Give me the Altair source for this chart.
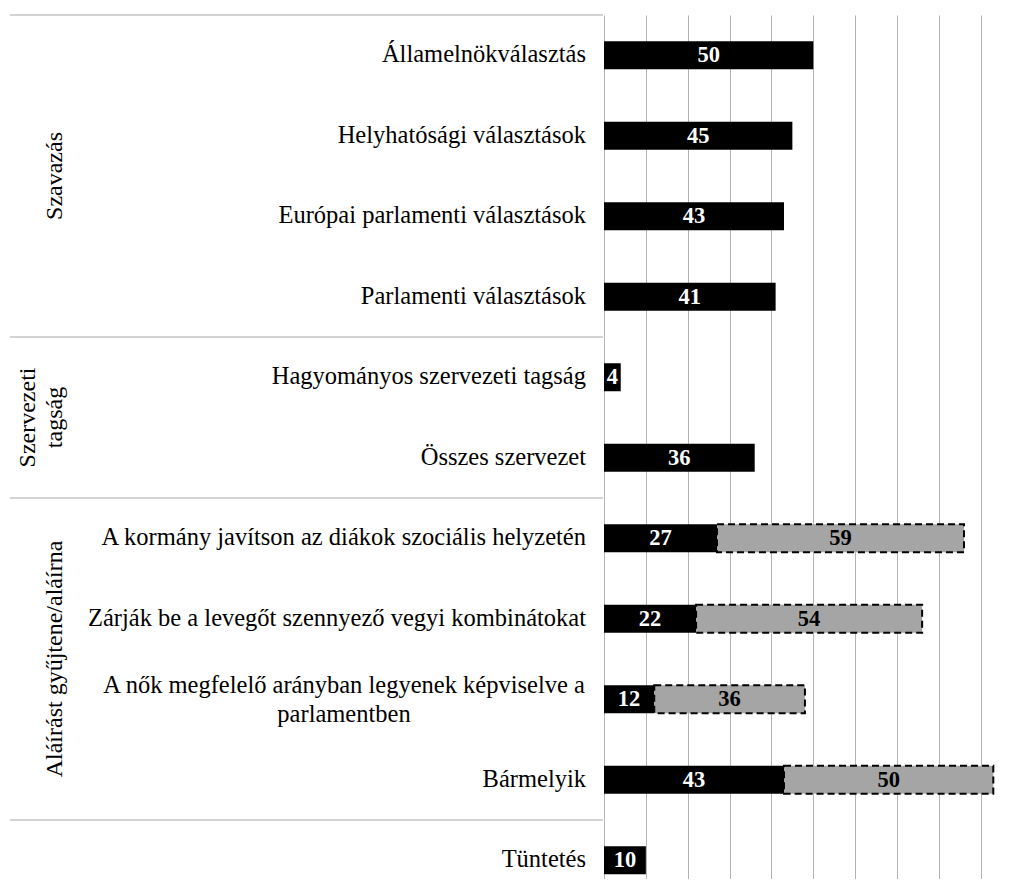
import altair as alt
import pandas as pd

# ---------------- data ----------------
categories = [
    "Államelnökválasztás",
    "Helyhatósági választások",
    "Európai parlamenti választások",
    "Parlamenti választások",
    "Hagyományos szervezeti tagság",
    "Összes szervezet",
    "A kormány javítson az diákok szociális helyzetén",
    "Zárják be a levegőt szennyező vegyi kombinátokat",
    "A nők megfelelő arányban legyenek képviselve a|parlamentben",
    "Bármelyik",
    "Tüntetés",
]
black_values = [50, 45, 43, 41, 4, 36, 27, 22, 12, 43, 10]
grey_values = [None, None, None, None, None, None, 59, 54, 36, 50, None]

group_names = ["Szavazás", "Szervezeti|tagság", "Aláírást gyűjtene/aláírna", ""]
group_first = [0, 4, 6, 10]
group_last = [3, 5, 9, 10]

grid_values = [0, 10, 20, 30, 40, 50, 60, 70, 80, 90]

# ---------------- tables ----------------
rows = pd.DataFrame({
    "idx": list(range(len(categories))),
    "label": categories,
    "black": black_values,
    "grey": grey_values,
})
black_df = pd.DataFrame({
    "idx": rows["idx"],
    "start": 0,
    "end": rows["black"],
    "value": rows["black"],
})
g = rows.dropna(subset=["grey"])
grey_df = pd.DataFrame({
    "idx": g["idx"],
    "start": g["black"],
    "end": g["black"] + g["grey"],
    "value": g["grey"].astype(int),
})
groups = pd.DataFrame({"name": group_names, "first": group_first, "last": group_last})

FONT = "'Times New Roman', 'Liberation Serif', 'DejaVu Serif', serif"
LABEL_SIZE = 24.5
GROUP_SIZE = 24
STEP = 80.5
H = 864
W_LEFT = 595
W_RIGHT = 400
PX_PER_UNIT = 4.186
HALF = 14 / STEP  # half bar thickness in row units

yscale = alt.Scale(domain=[-0.5, -0.5 + H / STEP], reverse=True, nice=False, zero=False)
xscale = alt.Scale(domain=[0, W_RIGHT / PX_PER_UNIT], nice=False, zero=False)

# ---------------- right panel: bars ----------------
xaxis = alt.Axis(grid=True, values=grid_values, labels=False, ticks=False, domain=False,
                 title=None, gridColor="#b3b3b3", gridWidth=1)

black_bars = alt.Chart(black_df).transform_calculate(
    y0=f"datum.idx - {HALF}", y1=f"datum.idx + {HALF}"
).mark_rect(fill="#000000").encode(
    x=alt.X("start:Q", scale=xscale, axis=xaxis),
    x2="end:Q",
    y=alt.Y("y0:Q", scale=yscale, axis=None),
    y2="y1:Q",
)

grey_bars = alt.Chart(grey_df).transform_calculate(
    y0=f"datum.idx - {HALF}", y1=f"datum.idx + {HALF}"
).mark_rect(fill="#a5a5a5", stroke="#000000", strokeWidth=2, strokeDash=[7, 4]).encode(
    x=alt.X("start:Q", scale=xscale, axis=xaxis),
    x2="end:Q",
    y=alt.Y("y0:Q", scale=yscale, axis=None),
    y2="y1:Q",
)

black_text = alt.Chart(black_df).transform_calculate(
    mid="(datum.start + datum.end) / 2"
).mark_text(font=FONT, fontSize=22.5, fontWeight="bold", color="#ffffff", baseline="middle").encode(
    x=alt.X("mid:Q", scale=xscale, axis=xaxis),
    y=alt.Y("idx:Q", scale=yscale, axis=None),
    text="value:Q",
)

grey_text = alt.Chart(grey_df).transform_calculate(
    mid="(datum.start + datum.end) / 2"
).mark_text(font=FONT, fontSize=22.5, fontWeight="bold", color="#000000", baseline="middle").encode(
    x=alt.X("mid:Q", scale=xscale, axis=xaxis),
    y=alt.Y("idx:Q", scale=yscale, axis=None),
    text="value:Q",
)

right = alt.layer(black_bars, grey_bars, black_text, grey_text).properties(width=W_RIGHT, height=H)

# ---------------- left panel: labels ----------------
labels_single = alt.Chart(rows).transform_filter(
    "indexof(datum.label, '|') < 0"
).mark_text(align="right", baseline="middle", font=FONT, fontSize=LABEL_SIZE, color="#000000").encode(
    x=alt.value(578),
    y=alt.Y("idx:Q", scale=yscale, axis=None),
    text="label:N",
)

labels_multi = alt.Chart(rows).transform_filter(
    "indexof(datum.label, '|') >= 0"
).transform_calculate(
    lines="split(datum.label, '|')"
).mark_text(align="center", baseline="middle", font=FONT, fontSize=LABEL_SIZE, lineHeight=29,
            dy=-13, color="#000000").encode(
    x=alt.value(336),
    y=alt.Y("idx:Q", scale=yscale, axis=None),
    text="lines:N",
)

group_base = alt.Chart(groups).transform_filter("datum.name != ''").transform_calculate(
    mid="(datum.first + datum.last) / 2",
    lines="split(datum.name, '|')",
    n="length(split(datum.name, '|'))",
)
group_single = group_base.transform_filter("datum.n == 1").mark_text(
    angle=270, align="center", baseline="alphabetic", font=FONT, fontSize=GROUP_SIZE, color="#000000"
).encode(
    x=alt.value(54),
    y=alt.Y("mid:Q", scale=yscale, axis=None),
    text="lines:N",
)
group_multi = group_base.transform_filter("datum.n > 1").mark_text(
    angle=270, align="center", baseline="alphabetic", font=FONT, fontSize=GROUP_SIZE, lineHeight=27,
    color="#000000"
).encode(
    x=alt.value(27),
    y=alt.Y("mid:Q", scale=yscale, axis=None),
    text="lines:N",
)

separators = alt.Chart(groups).transform_calculate(
    b="datum.first - 0.5"
).mark_rule(color="#a6a6a6", strokeWidth=1).encode(
    y=alt.Y("b:Q", scale=yscale, axis=None),
    x=alt.value(2),
    x2=alt.value(W_LEFT),
)

left = alt.layer(separators, labels_single, labels_multi, group_single, group_multi).properties(
    width=W_LEFT, height=H
)

chart = alt.hconcat(left, right, spacing=0).properties(
    padding={"left": 0, "top": 6, "right": 0, "bottom": 0}
).configure_view(stroke=None).configure_concat(spacing=0)

chart.save("out.html", embed_options={"renderer": "svg", "actions": False})
